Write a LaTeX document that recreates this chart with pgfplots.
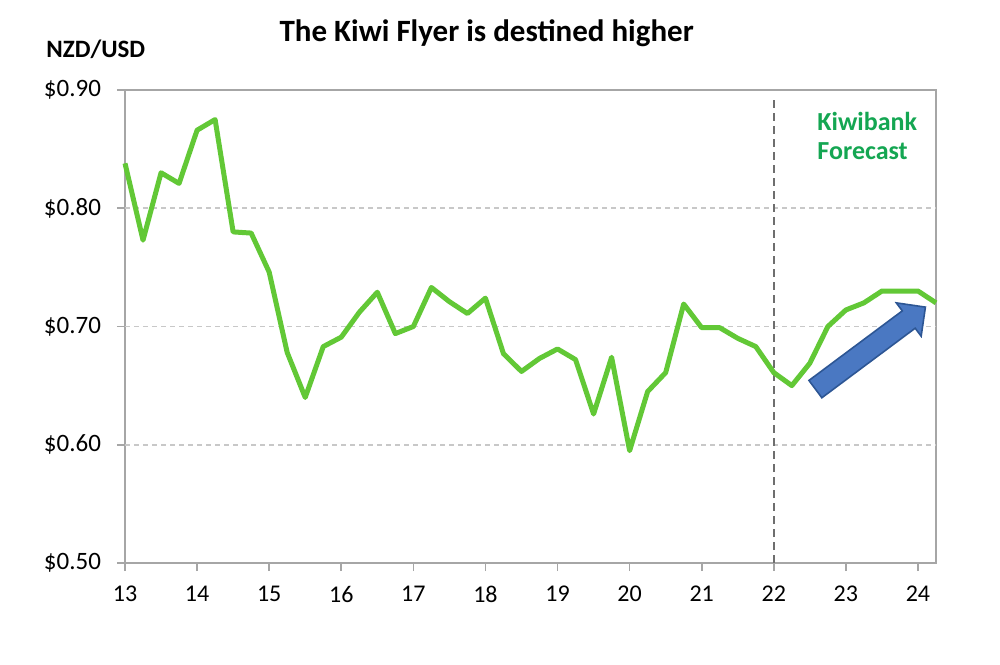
\documentclass[border=0pt]{standalone}
\usepackage{fontspec}
\setmainfont{Carlito}
\usepackage{pgfplots}
\pgfplotsset{compat=1.18}
\usetikzlibrary{arrows.meta,shapes.arrows}
\definecolor{kiwiline}{HTML}{62C836}
\definecolor{kiwitext}{HTML}{14A652}
\definecolor{arrowfill}{HTML}{4A78C2}
\definecolor{arrowedge}{HTML}{2D5694}
\definecolor{framegray}{HTML}{A6A6A6}
\definecolor{gridgray}{HTML}{C8C8C8}
\definecolor{vgray}{HTML}{6E6E6E}
\pgfplotstableread{
t v
13.00 0.838
13.25 0.773
13.50 0.830
13.75 0.821
14.00 0.866
14.25 0.875
14.50 0.780
14.75 0.779
15.00 0.746
15.25 0.678
15.50 0.640
15.75 0.683
16.00 0.691
16.25 0.712
16.50 0.729
16.75 0.694
17.00 0.700
17.25 0.733
17.50 0.721
17.75 0.711
18.00 0.724
18.25 0.677
18.50 0.662
18.75 0.673
19.00 0.681
19.25 0.672
19.50 0.626
19.75 0.674
20.00 0.595
20.25 0.645
20.50 0.661
20.75 0.719
21.00 0.699
21.25 0.699
21.50 0.690
21.75 0.683
22.00 0.661
22.25 0.650
22.50 0.669
22.75 0.700
23.00 0.714
23.25 0.720
23.50 0.730
23.75 0.730
24.00 0.730
24.25 0.720
}\kiwidata
\begin{document}
\begin{tikzpicture}
\begin{axis}[
  name=ax,
  scale only axis,
  width=405.5pt, height=236.5pt,
  xmin=13, xmax=24.25, ymin=0.5, ymax=0.9,
  xtick={13,14,15,16,17,18,19,20,21,22,23,24},
  xticklabels={13,14,15,16,17,18,19,20,21,22,23,24},
  ytick={0.5,0.6,0.7,0.8,0.9},
  yticklabels={\$0.50,\$0.60,\$0.70,\$0.80,\$0.90},
  xtick pos=bottom, ytick pos=left,
  tick align=outside,
  major tick length=4pt,
  axis line style={framegray, line width=0.8pt},
  tick style={framegray, line width=0.8pt},
  yticklabel style={font=\fontsize{12.5}{15}\selectfont, text=black, xshift=-4.5pt},
  xticklabel style={font=\fontsize{12}{14}\selectfont, text=black, yshift=-4pt},
  clip=false,
]
\draw[gridgray, line width=0.75pt, dash pattern=on 2.5pt off 2pt] (axis cs:13,0.6) -- (axis cs:24.25,0.6);
\draw[gridgray, line width=0.75pt, dash pattern=on 2.5pt off 2pt] (axis cs:13,0.7) -- (axis cs:24.25,0.7);
\draw[gridgray, line width=0.75pt, dash pattern=on 2.5pt off 2pt] (axis cs:13,0.8) -- (axis cs:24.25,0.8);
\draw[vgray, line width=1pt, dash pattern=on 4pt off 2.5pt] (axis cs:22,0.5) -- (axis cs:22,0.893);
\addplot[kiwiline, line width=2.5pt, line join=round] table[x=t, y=v] {\kiwidata};
\node[single arrow, draw=arrowedge, fill=arrowfill, line width=0.8pt, rotate=36.7,
      minimum height=68.6pt, inner sep=5pt, single arrow head extend=5pt] at (axis cs:23.28,0.679) {};
\node[anchor=base west, font=\bfseries\fontsize{13}{15}\selectfont, text=kiwitext, inner sep=0] at (axis cs:22.6,0.866) {Kiwibank};
\node[anchor=base west, font=\bfseries\fontsize{13}{15}\selectfont, text=kiwitext, inner sep=0] at (axis cs:22.6,0.841) {Forecast};
\node[anchor=base, font=\bfseries\fontsize{15.5}{18}\selectfont, inner sep=0] at ([yshift=24pt]rel axis cs:0.446,1) {The Kiwi Flyer is destined higher};
\node[anchor=base west, font=\bfseries\fontsize{12.5}{15}\selectfont, inner sep=0] at ([xshift=-39.5pt, yshift=16pt]rel axis cs:0,1) {NZD/USD};
\end{axis}
\pgfresetboundingbox
\path[use as bounding box] ([shift={(-62.5pt,-50.5pt)}]ax.south west) rectangle ([shift={(32pt,45pt)}]ax.north east);
\end{tikzpicture}
\end{document}
